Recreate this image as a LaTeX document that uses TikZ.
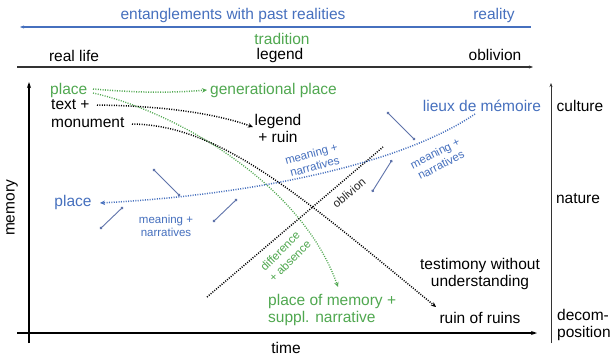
\documentclass[tikz,border=0pt]{standalone}
\usepackage{fontspec}
\setmainfont{Liberation Sans}
\usetikzlibrary{arrows.meta}
\definecolor{myblue}{RGB}{70,112,190}
\definecolor{mygreen}{RGB}{80,168,80}
\definecolor{linkblue}{RGB}{95,115,170}
\begin{document}
\begin{tikzpicture}[x=1pt,y=-1pt,
  big/.style={inner sep=0pt,font=\fontsize{15.5}{17}\selectfont},
  small/.style={inner sep=0pt,font=\fontsize{11.5}{13}\selectfont},
  dotline/.style={line width=1.5pt,dash pattern=on 1pt off 1.4pt},
  tip/.style={-{Stealth[length=5pt,width=4.5pt]}},
  link/.style={linkblue,line width=0.9pt,{Circle[length=2.8pt]}-{Circle[length=2.8pt]}},
  axis/.style={line width=1.8pt,-{Stealth[length=6pt,width=4pt]}}]
\useasboundingbox (0,0) rectangle (613,359);
\fill[white] (0,0) rectangle (613,359);
% top rows
\node[big,myblue] (ent) at (233,15) {entanglements with past realities};
\node[big,myblue] (reality) at (494,15) {reality};
\coordinate (bl) at (20,27); \coordinate (br) at (531,27);
\draw[myblue,line width=1.1pt,{Stealth[length=4pt,width=3pt]}-] (bl) -- (br);
\node[big,mygreen] (tradition) at (282,39) {tradition};
\node[big] (legendtop) at (280,55) {legend};
\node[big] (reallife) at (74,56) {real life};
\node[big] (oblivtop) at (495,55) {oblivion};
\coordinate (kl) at (17,67); \coordinate (kr) at (533,67);
\draw[black!80,line width=1.1pt,-{Stealth[length=4pt,width=3pt]}] (kl) -- (kr);
% axes
\coordinate (m0) at (29,343); \coordinate (m1) at (29,82);
\coordinate (t0) at (17,333); \coordinate (t1) at (537,333);
\draw[axis] (m0) -- (m1);
\draw[axis] (t0) -- (t1);
\coordinate (r0) at (551,343); \coordinate (r1) at (551,83);
\draw[black!80,line width=0.9pt,-{Stealth[length=4pt,width=3pt]}] (r0) -- (r1);
\node[big,rotate=90] (memory) at (12,208) {memory};
\node[big] (time) at (286,348) {time};
\node[big] (culture) at (580,106) {culture};
\node[big] (nature) at (578,199) {nature};
\node[big,align=left,anchor=west] (decomp) at (557,325) {decom-\\position};
% left labels
\node[big,mygreen,anchor=west] (place) at (50,90) {place};
\node[big,anchor=west] (textplus) at (51,105) {text +};
\node[big,anchor=west] (monument) at (51,123) {monument};
\node[big,mygreen,anchor=west] (genplace) at (210,90) {generational place};
\node[big,align=center] (legendruin) at (278,128) {legend\\+ ruin};
\node[big,myblue] (lieux) at (482,106) {lieux de mémoire};
\node[big,myblue] (bplace) at (73,202) {place};
\node[big,align=center] (testimony) at (480,274) {testimony without\\understanding};
\node[big] (ruins) at (480,318) {ruin of ruins};
\node[big,mygreen,align=left,anchor=west] (pom) at (268,310) {place of memory +\\suppl. narrative};
% small labels
\node[small,myblue,align=center] (mn1) at (166,226) {meaning +\\narratives};
\node[small,myblue,align=center,rotate=15] (mn2) at (313,160) {meaning +\\narratives};
\node[small,myblue,align=center,rotate=27] (mn3) at (438,159) {meaning +\\narratives};
\node[small,black!85,rotate=40] (oblab) at (349,193) {oblivion};
\node[inner sep=0pt,font=\fontsize{11.5}{14}\selectfont,mygreen,align=center,rotate=45] (difab) at (285,256) {difference\\+ absence};
% dotted connectors
\coordinate (g1s) at (93,89); \coordinate (g1e) at (207,90);
\draw[mygreen,dotline,tip] (g1s) .. controls (140,93) and (170,93) .. (g1e);
\coordinate (k1s) at (97,105); \coordinate (k1e) at (253,127);
\draw[black,dotline,tip] (k1s) .. controls (170,106) and (220,115) .. (k1e);
\coordinate (g2s) at (93,93); \coordinate (g2e) at (338,287);
\draw[mygreen,dotline,line width=1.3pt,tip] (g2s) .. controls (170,110) and (300,180) .. (g2e);
\coordinate (k2s) at (132,124); \coordinate (k2e) at (436,307);
\draw[black,dotline,tip] (k2s) .. controls (220,125) and (300,195) .. (k2e);
\coordinate (o0) at (207,297); \coordinate (o1) at (383,147);
\draw[black,dotline] (o0) -- (o1);
\coordinate (bs) at (475,114); \coordinate (be) at (100,203);
\draw[myblue,dotline,tip] (bs) .. controls (400,165) and (250,195) .. (be);
% meaning links
\coordinate (a0) at (153,169); \coordinate (a1) at (180,196);
\coordinate (b0) at (100,229); \coordinate (b1) at (123,207);
\coordinate (c0) at (213,222); \coordinate (c1) at (237,199);
\coordinate (d0) at (387,112); \coordinate (d1) at (415,140);
\coordinate (e0) at (372,192); \coordinate (e1) at (392,160);
\draw[link] (a0) -- (a1);
\draw[link] (b0) -- (b1);
\draw[link] (c0) -- (c1);
\draw[link] (d0) -- (d1);
\draw[link] (e0) -- (e1);
\end{tikzpicture}
\end{document}
